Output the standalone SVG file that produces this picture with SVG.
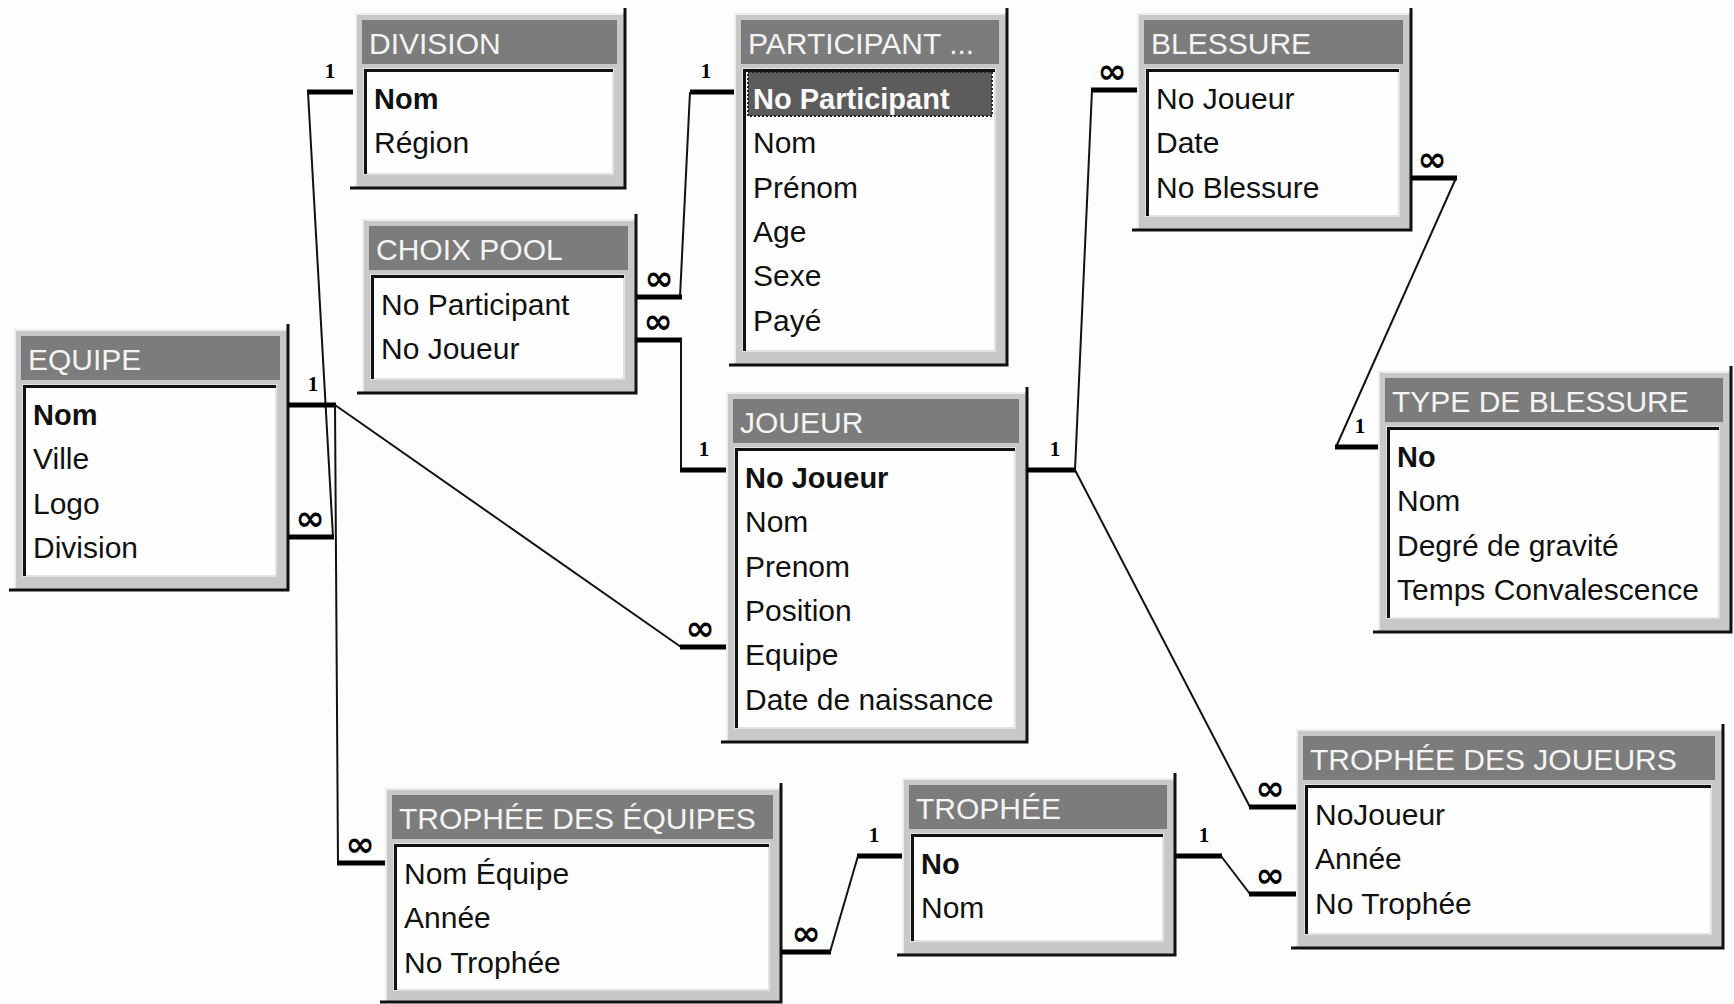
<svg xmlns="http://www.w3.org/2000/svg" width="1734" height="1004" viewBox="0 0 1734 1004">
<style>
.frame{fill:#c8c8c8}
.hl{stroke:#ededed;stroke-width:2;fill:none}
.shadow{stroke:#111;stroke-width:3;fill:none}
.title{fill:#7c7c7c}
.ttext{font-family:"Liberation Sans",Arial,sans-serif;font-size:30px;fill:#f4f4f4}
.list{fill:#fefefe;stroke:#e2e2e2;stroke-width:2}
.lb{stroke:#111;stroke-width:3;fill:none}
.row{font-family:"Liberation Sans",Arial,sans-serif;font-size:30px;fill:#111}
.pk{font-weight:bold;font-size:29px}
.sel{fill:#5c5c5c;stroke:#222;stroke-width:2;stroke-dasharray:2 2}
.selt{fill:#fafafa}
.stub{stroke:#000;stroke-width:5;fill:none}
.link{stroke:#111;stroke-width:2;fill:none}
.one{font-family:"Liberation Serif",serif;font-weight:bold;font-size:21px;text-anchor:middle;fill:#000}
.many{font-family:"DejaVu Sans",sans-serif;font-weight:bold;font-size:35px;text-anchor:middle;fill:#000}
</style>
<rect x="0" y="0" width="1734" height="1004" fill="#fdfdfd"/>

<g id="division" transform="translate(355,13)">
<rect class="frame" x="0" y="0" width="270" height="175"/>
<path class="hl" d="M0,1H268M1,0V173"/>
<rect class="title" x="7" y="7" width="255" height="44"/>
<text class="ttext" x="14" y="41">DIVISION</text>
<rect class="list" x="9" y="56" width="249" height="105"/>
<path class="lb" d="M10.5,161V57.5H258"/>
<path class="shadow" d="M270,-5V175H-5"/>
<text class="row pk" x="19" y="96">Nom</text>
<text class="row" x="19" y="140">Région</text>
</g>

<g id="participant" transform="translate(734,13)">
<rect class="frame" x="0" y="0" width="273" height="352"/>
<path class="hl" d="M0,1H271M1,0V350"/>
<rect class="title" x="7" y="7" width="258" height="44"/>
<text class="ttext" x="14" y="41">PARTICIPANT ...</text>
<rect class="list" x="9" y="56" width="252" height="282"/>
<path class="lb" d="M10.5,338V57.5H261"/>
<rect class="sel" x="14" y="59" width="244" height="44"/>
<path class="shadow" d="M273,-5V352H-5"/>
<text class="row pk selt" x="19" y="96">No Participant</text>
<text class="row" x="19" y="140">Nom</text>
<text class="row" x="19" y="185">Prénom</text>
<text class="row" x="19" y="229">Age</text>
<text class="row" x="19" y="273">Sexe</text>
<text class="row" x="19" y="318">Payé</text>
</g>

<g id="blessure" transform="translate(1137,13)">
<rect class="frame" x="0" y="0" width="274" height="217"/>
<path class="hl" d="M0,1H272M1,0V215"/>
<rect class="title" x="7" y="7" width="259" height="44"/>
<text class="ttext" x="14" y="41">BLESSURE</text>
<rect class="list" x="9" y="56" width="253" height="147"/>
<path class="lb" d="M10.5,203V57.5H262"/>
<path class="shadow" d="M274,-5V217H-5"/>
<text class="row" x="19" y="96">No Joueur</text>
<text class="row" x="19" y="140">Date</text>
<text class="row" x="19" y="185">No Blessure</text>
</g>

<g id="choixpool" transform="translate(362,219)">
<rect class="frame" x="0" y="0" width="274" height="174"/>
<path class="hl" d="M0,1H272M1,0V172"/>
<rect class="title" x="7" y="7" width="259" height="44"/>
<text class="ttext" x="14" y="41">CHOIX POOL</text>
<rect class="list" x="9" y="56" width="253" height="104"/>
<path class="lb" d="M10.5,160V57.5H262"/>
<path class="shadow" d="M274,-5V174H-5"/>
<text class="row" x="19" y="96">No Participant</text>
<text class="row" x="19" y="140">No Joueur</text>
</g>

<g id="equipe" transform="translate(14,329)">
<rect class="frame" x="0" y="0" width="274" height="261"/>
<path class="hl" d="M0,1H272M1,0V259"/>
<rect class="title" x="7" y="7" width="259" height="44"/>
<text class="ttext" x="14" y="41">EQUIPE</text>
<rect class="list" x="9" y="56" width="253" height="191"/>
<path class="lb" d="M10.5,247V57.5H262"/>
<path class="shadow" d="M274,-5V261H-5"/>
<text class="row pk" x="19" y="96">Nom</text>
<text class="row" x="19" y="140">Ville</text>
<text class="row" x="19" y="185">Logo</text>
<text class="row" x="19" y="229">Division</text>
</g>

<g id="joueur" transform="translate(726,392)">
<rect class="frame" x="0" y="0" width="301" height="350"/>
<path class="hl" d="M0,1H299M1,0V348"/>
<rect class="title" x="7" y="7" width="286" height="44"/>
<text class="ttext" x="14" y="41">JOUEUR</text>
<rect class="list" x="9" y="56" width="280" height="280"/>
<path class="lb" d="M10.5,336V57.5H289"/>
<path class="shadow" d="M301,-5V350H-5"/>
<text class="row pk" x="19" y="96">No Joueur</text>
<text class="row" x="19" y="140">Nom</text>
<text class="row" x="19" y="185">Prenom</text>
<text class="row" x="19" y="229">Position</text>
<text class="row" x="19" y="273">Equipe</text>
<text class="row" x="19" y="318">Date de naissance</text>
</g>

<g id="typeblessure" transform="translate(1378,371)">
<rect class="frame" x="0" y="0" width="353" height="261"/>
<path class="hl" d="M0,1H351M1,0V259"/>
<rect class="title" x="7" y="7" width="338" height="44"/>
<text class="ttext" x="14" y="41">TYPE DE BLESSURE</text>
<rect class="list" x="9" y="56" width="332" height="191"/>
<path class="lb" d="M10.5,247V57.5H341"/>
<path class="shadow" d="M353,-5V261H-5"/>
<text class="row pk" x="19" y="96">No</text>
<text class="row" x="19" y="140">Nom</text>
<text class="row" x="19" y="185">Degré de gravité</text>
<text class="row" x="19" y="229">Temps Convalescence</text>
</g>

<g id="tropheeequipes" transform="translate(385,788)">
<rect class="frame" x="0" y="0" width="396" height="215"/>
<path class="hl" d="M0,1H394M1,0V213"/>
<rect class="title" x="7" y="7" width="381" height="44"/>
<text class="ttext" x="14" y="41">TROPHÉE DES ÉQUIPES</text>
<rect class="list" x="9" y="56" width="375" height="146"/>
<path class="lb" d="M10.5,202V57.5H384"/>
<path class="shadow" d="M396,-5V214H-5"/>
<text class="row" x="19" y="96">Nom Équipe</text>
<text class="row" x="19" y="140">Année</text>
<text class="row" x="19" y="185">No Trophée</text>
</g>

<g id="trophee" transform="translate(902,778)">
<rect class="frame" x="0" y="0" width="273" height="177"/>
<path class="hl" d="M0,1H271M1,0V175"/>
<rect class="title" x="7" y="7" width="258" height="44"/>
<text class="ttext" x="14" y="41">TROPHÉE</text>
<rect class="list" x="9" y="56" width="252" height="107"/>
<path class="lb" d="M10.5,163V57.5H261"/>
<path class="shadow" d="M273,-5V177H-5"/>
<text class="row pk" x="19" y="96">No</text>
<text class="row" x="19" y="140">Nom</text>
</g>

<g id="tropheejoueurs" transform="translate(1296,729)">
<rect class="frame" x="0" y="0" width="427" height="219"/>
<path class="hl" d="M0,1H425M1,0V217"/>
<rect class="title" x="7" y="7" width="412" height="44"/>
<text class="ttext" x="14" y="41">TROPHÉE DES JOUEURS</text>
<rect class="list" x="9" y="56" width="406" height="149"/>
<path class="lb" d="M10.5,205V57.5H415"/>
<path class="shadow" d="M427,-5V219H-5"/>
<text class="row" x="19" y="96">NoJoueur</text>
<text class="row" x="19" y="140">Année</text>
<text class="row" x="19" y="185">No Trophée</text>
</g>

<g id="connectors">
<path class="stub" d="M353,92H307"/>
<path class="link" d="M308,92L333,537"/>
<path class="stub" d="M288,537H334"/>
<text class="one" x="330" y="78">1</text>
<text class="many" x="310" y="530">∞</text>

<path class="stub" d="M734,92H690"/>
<path class="link" d="M690,92L680,297"/>
<path class="stub" d="M637,297H682"/>
<text class="one" x="706" y="78">1</text>
<text class="many" x="659" y="290">∞</text>

<path class="stub" d="M637,340H682"/>
<path class="link" d="M681,340V470"/>
<path class="stub" d="M680,470H726"/>
<text class="many" x="658" y="333">∞</text>
<text class="one" x="704" y="456">1</text>

<path class="stub" d="M1027,470H1076"/>
<path class="link" d="M1075,470L1092,90"/>
<path class="stub" d="M1091,90H1137"/>
<text class="one" x="1055" y="456">1</text>
<text class="many" x="1112" y="83">∞</text>

<path class="link" d="M1075,470L1250,807"/>
<path class="stub" d="M1249,807H1296"/>
<text class="many" x="1270" y="800">∞</text>

<path class="stub" d="M288,405H336"/>
<path class="link" d="M335,405L681,647"/>
<path class="stub" d="M680,647H726"/>
<text class="one" x="313" y="391">1</text>
<text class="many" x="700" y="640">∞</text>

<path class="link" d="M335,405L338,863"/>
<path class="stub" d="M337,863H385"/>
<text class="many" x="360" y="856">∞</text>

<path class="stub" d="M1411,178H1457"/>
<path class="link" d="M1456,178L1336,447"/>
<path class="stub" d="M1335,447H1378"/>
<text class="many" x="1432" y="171">∞</text>
<text class="one" x="1360" y="433">1</text>

<path class="stub" d="M902,856H857"/>
<path class="link" d="M858,856L830,952"/>
<path class="stub" d="M831,952H781"/>
<text class="one" x="874" y="842">1</text>
<text class="many" x="806" y="945">∞</text>

<path class="stub" d="M1175,856H1222"/>
<path class="link" d="M1221,856L1250,894"/>
<path class="stub" d="M1249,894H1296"/>
<text class="one" x="1204" y="842">1</text>
<text class="many" x="1270" y="887">∞</text>
</g>
</svg>
